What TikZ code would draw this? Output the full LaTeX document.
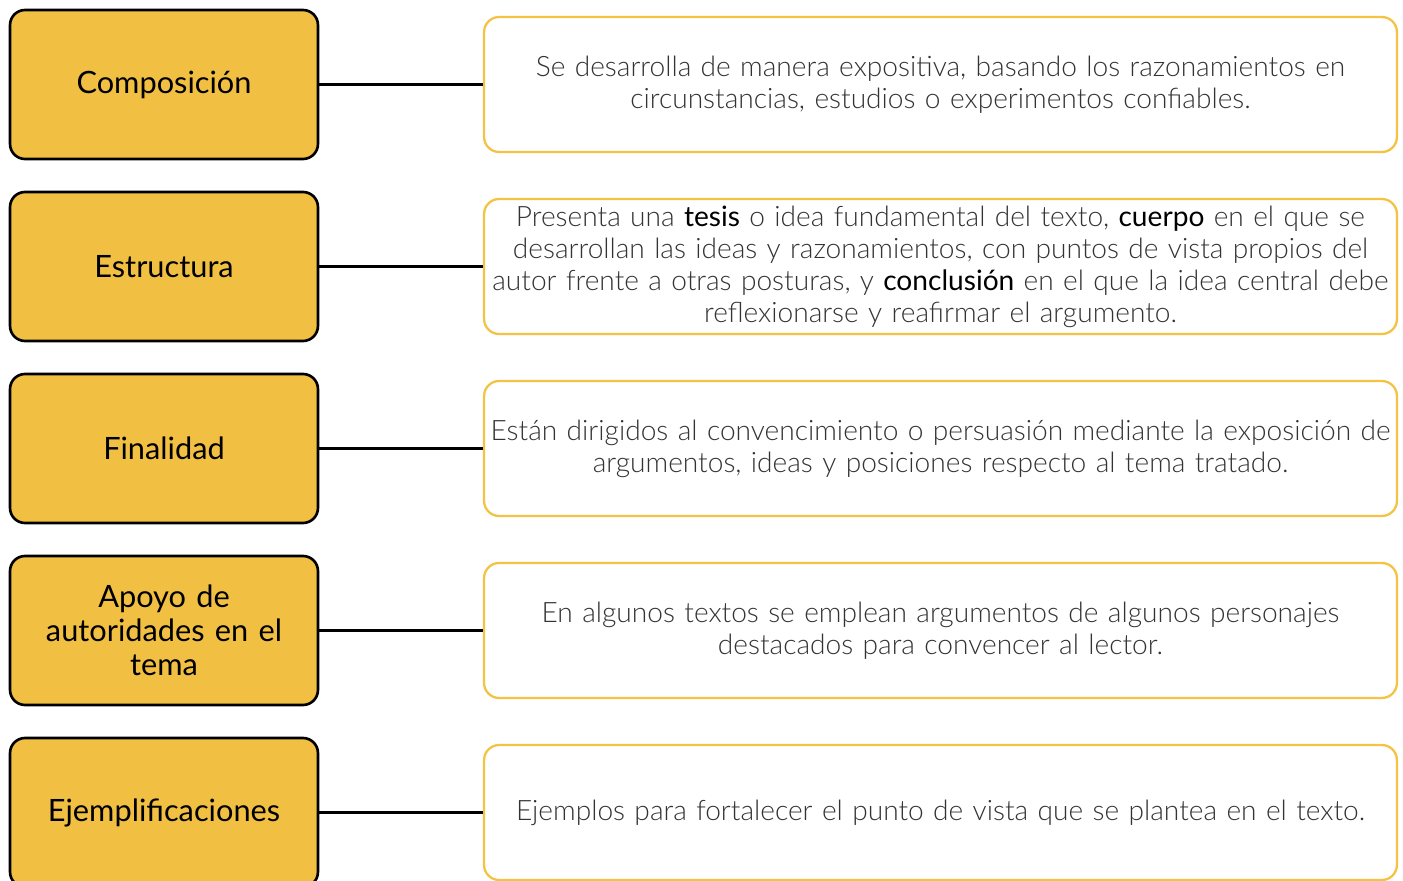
\documentclass[tikz,border=0pt]{standalone}
\usepackage{fontspec}
\setmainfont{Lato}
\newfontfamily\lightfont{Lato Light}
\definecolor{boxgold}{HTML}{F1C043}
\definecolor{linegold}{HTML}{F4C343}
\definecolor{bodytext}{HTML}{333333}
\newcommand{\keyword}[1]{{\rmfamily\color{black}#1}}
\tikzset{
  concept/.style={draw=black, line width=1.5pt, fill=boxgold, rounded corners=0.3cm,
    minimum width=6.16cm, minimum height=2.98cm, align=center,
    font=\fontsize{17.5}{19.3}\selectfont, text width=5.6cm},
  detail/.style={draw=linegold, line width=1.3pt, fill=white, rounded corners=0.3cm,
    minimum width=18.26cm, minimum height=2.7cm, align=center, inner xsep=0pt,
    font=\lightfont\fontsize{16}{18.2}\selectfont, text=bodytext, text width=18.2cm},
  link/.style={line width=1.3pt, black}
}
\begin{document}
\begin{tikzpicture}[x=0.02cm, y=-0.02cm]
  \useasboundingbox (0,0) rectangle (1403,881);

  % ===== LEFT COLUMN: characteristics =====
  \node[concept] (comp) at (164, 84.5) {Composición};
  \node[concept] (estr) at (164, 266.5) {Estructura};
  \node[concept] (fin)  at (164, 448.5) {Finalidad};
  \node[concept] (apoyo) at (164, 630.5) {Apoyo de\\autoridades en el\\tema};
  \node[concept] (ejem) at (164, 812.5) {Ejemplificaciones};

  % ===== RIGHT COLUMN: descriptions =====
  \node[detail] (dcomp) at (940.5, 84.5)
    {Se desarrolla de manera expositiva, basando los razonamientos en\\
     circunstancias, estudios o experimentos confiables.};
  \node[detail] (destr) at (940.5, 266.5)
    {Presenta una \keyword{tesis} o idea fundamental del texto, \keyword{cuerpo} en el que se\\
     desarrollan las ideas y razonamientos, con puntos de vista propios del\\
     autor frente a otras posturas, y \keyword{conclusión} en el que la idea central debe\\
     reflexionarse y reafirmar el argumento.};
  \node[detail] (dfin) at (940.5, 448.5)
    {Están dirigidos al convencimiento o persuasión mediante la exposición de\\
     argumentos, ideas y posiciones respecto al tema tratado.};
  \node[detail] (dapoyo) at (940.5, 630.5)
    {En algunos textos se emplean argumentos de algunos personajes\\
     destacados para convencer al lector.};
  \node[detail] (dejem) at (940.5, 812.5)
    {Ejemplos para fortalecer el punto de vista que se plantea en el texto.};

  % ===== CONNECTORS =====
  \draw[link] (comp)  -- (dcomp);
  \draw[link] (estr)  -- (destr);
  \draw[link] (fin)   -- (dfin);
  \draw[link] (apoyo) -- (dapoyo);
  \draw[link] (ejem)  -- (dejem);
\end{tikzpicture}
\end{document}
